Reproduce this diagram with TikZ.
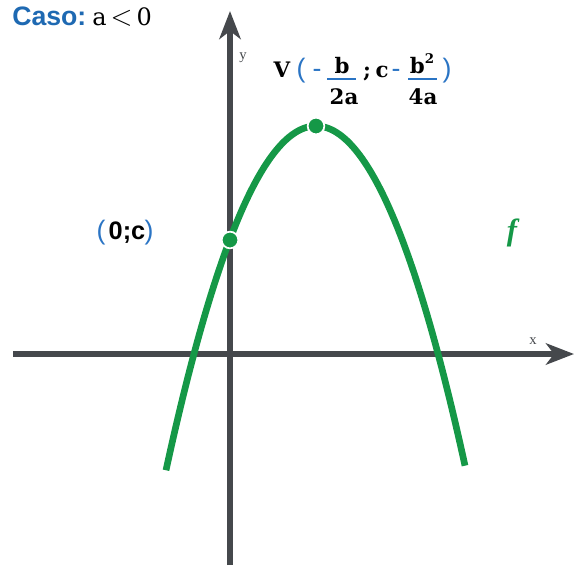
\documentclass[tikz,border=0pt]{standalone}
\usepackage{fontspec}
\setmainfont{Liberation Serif}
\setsansfont{Liberation Sans}
\newfontfamily\slabfont{DejaVu Serif}
\newfontfamily\lsans{Liberation Sans}
\usetikzlibrary{arrows.meta}
\definecolor{axisgray}{HTML}{45484C}
\definecolor{fgreen}{HTML}{159847}
\definecolor{pblue}{HTML}{2A74C4}
\definecolor{casoblue}{HTML}{1E69B2}
\begin{document}
\begin{tikzpicture}[x=0.75pt,y=-0.75pt,
  axisline/.style={draw=axisgray,line width=4pt,-{Stealth[length=21pt,width=16pt,inset=6pt]}},
  curve/.style={draw=fgreen,line width=5pt},
  gdot/.style={circle,fill=fgreen,draw=white,line width=1.3pt,minimum size=12.5pt,inner sep=0pt},
  lbl/.style={inner sep=0pt,anchor=base},
  vtxt/.style={lbl,font=\slabfont\bfseries\fontsize{16}{18}\selectfont,text=black},
  btxt/.style={lbl,font=\lsans\fontsize{20}{22}\selectfont,text=pblue},
  axl/.style={lbl,font=\fontsize{11}{13}\selectfont,text=axisgray}]
\useasboundingbox (0,0) rectangle (574,565);
\coordinate (xs) at (13,354);
\coordinate (xe) at (574,354);
\coordinate (ys) at (230,565);
\coordinate (ye) at (230,11);
\draw[axisline] (xs) -- (xe);
\draw[axisline] (ys) -- (ye);
\draw[curve] plot[domain=166:465,samples=120] (\x,{126+1.53*((\x-316)/10)^2});
\node[gdot] (vx) at (316,126) {};
\node[gdot] (yc) at (230,240) {};
% axis labels
\node[axl] (ylab) at (243,59) {y};
\node[axl] (xlab) at (533,344) {x};
% title
\node[lbl,anchor=base west,text=casoblue,font=\sffamily\bfseries\fontsize{20}{22}\selectfont] (caso) at (12,25) {Caso:};
\node[lbl,anchor=base west,font=\slabfont\fontsize{18}{20}\selectfont] (cond) at (92,25) {a\,\scalebox{1.25}{$<$}\,0};
% f label
\node[lbl,text=fgreen,font=\bfseries\itshape\fontsize{23}{25}\selectfont] (flab) at (512,240) {f};
% (0;c)
\node[btxt] (p1) at (101,239) {(};
\node[lbl,font=\sffamily\bfseries\fontsize{19}{21}\selectfont] (zc) at (127,239) {0;c};
\node[btxt] (p2) at (149,239) {)};
% vertex label
\node[vtxt] (V) at (282,77) {V};
\node[btxt] (vp1) at (301,77) {(};
\node[btxt] (m1) at (317,77) {-};
\node[vtxt] (b1) at (342,73) {b};
\node[vtxt] (d1) at (344,104) {2a};
\draw[pblue,line width=1.1pt] (327,79) -- (356,79);
\node[vtxt] (sc) at (367,77) {;};
\node[vtxt] (c1) at (382,77) {c};
\node[btxt] (m2) at (396,77) {-};
\node[vtxt] (b2) at (422,73) {b\raisebox{0.45em}{\fontsize{10}{12}\selectfont 2}};
\node[vtxt] (d2) at (423,104) {4a};
\draw[pblue,line width=1.1pt] (408,79) -- (437,79);
\node[btxt] (vp2) at (447,77) {)};
\end{tikzpicture}
\end{document}
